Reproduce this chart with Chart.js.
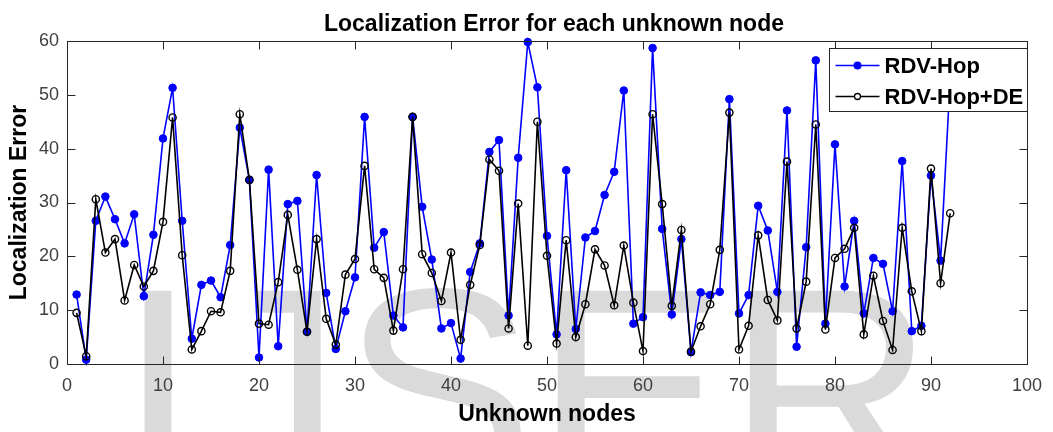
<!DOCTYPE html>
<html>
<head>
<meta charset="utf-8">
<script src="https://cdn.jsdelivr.net/npm/chart.js@4.4.1/dist/chart.umd.min.js"></script>
<style>
  html, body { margin: 0; padding: 0; background: #ffffff; }
  #wrap { width: 1053px; height: 432px; position: relative; }
</style>
</head>
<body>
<div id="wrap"><canvas id="c" width="1053" height="432"></canvas></div>
<script>
const nodes = Array.from({length: 92}, (_, i) => i + 1);
const rdvHop = [12.9, 0.8, 26.6, 31.1, 26.9, 22.4, 27.8, 12.6, 24.0, 41.9,
  51.3, 26.6, 4.7, 14.7, 15.5, 12.4, 22.1, 43.9, 34.2, 1.2,
  36.1, 3.3, 29.7, 30.3, 6.0, 35.1, 13.2, 2.8, 9.8, 16.1,
  45.9, 21.6, 24.5, 9.0, 6.8, 45.9, 29.2, 19.4, 6.6, 7.6,
  1.0, 17.1, 22.4, 39.4, 41.6, 9.0, 38.3, 59.8, 51.4, 23.8,
  5.5, 36.0, 6.5, 23.5, 24.7, 31.4, 35.7, 50.8, 7.5, 8.7,
  58.7, 25.1, 9.2, 23.2, 2.2, 13.3, 12.8, 13.4, 49.2, 9.4,
  12.8, 29.4, 24.8, 13.4, 47.1, 3.2, 21.7, 56.4, 7.5, 40.8,
  14.4, 26.6, 9.4, 19.7, 18.6, 9.8, 37.7, 6.1, 7.1, 35.0,
  19.2, 53.0];
const rdvHopDE = [9.5, 1.45, 30.6, 20.7, 23.2, 11.8, 18.4, 14.4, 17.3, 26.4,
  45.8, 20.2, 2.7, 6.1, 9.8, 9.6, 17.3, 46.4, 34.2, 7.5,
  7.3, 15.2, 27.7, 17.5, 6.0, 23.2, 8.4, 3.6, 16.6, 19.5,
  36.8, 17.6, 16.0, 6.2, 17.6, 45.9, 20.4, 16.9, 11.7, 20.7,
  4.5, 14.7, 22.1, 38.0, 35.9, 6.6, 29.8, 3.4, 45.0, 20.1,
  3.8, 23.0, 5.0, 11.1, 21.3, 18.3, 10.9, 22.0, 11.4, 2.4,
  46.4, 29.7, 10.8, 24.9, 2.3, 7.0, 11.1, 21.2, 46.7, 2.7,
  7.1, 23.9, 11.9, 8.1, 37.6, 6.6, 15.3, 44.5, 6.4, 19.7,
  21.4, 25.3, 5.5, 16.4, 8.0, 2.6, 25.3, 13.5, 6.1, 36.3,
  15.0, 28.0];
const seriesNames = ['RDV-Hop', 'RDV-Hop+DE'];
const xTicks = [0, 10, 20, 30, 40, 50, 60, 70, 80, 90, 100];
const yTicks = [0, 10, 20, 30, 40, 50, 60];
const chartTitle = 'Localization Error for each unknown node';
const xTitle = 'Unknown nodes';
const yTitle = 'Localization Error';
const watermark = 'IJSER';

const FONT = '"Liberation Sans", Arial, Helvetica, sans-serif';
const AXIS = '#262626';

const toPts = (ys) => nodes.map((n, i) => ({x: n, y: ys[i]}));

const bgPlugin = {
  id: 'bg',
  beforeDraw(chart) {
    const ctx = chart.ctx;
    ctx.save();
    ctx.fillStyle = '#ffffff';
    ctx.fillRect(0, 0, chart.width, chart.height);
    ctx.font = '288px ' + FONT;
    ctx.fillStyle = '#dadada';
    ctx.textBaseline = 'alphabetic';
    ctx.textAlign = 'left';
    ctx.fillText(watermark, 118, 489);
    ctx.restore();
  }
};

const framePlugin = {
  id: 'frame',
  afterDatasetsDraw(chart) {
    const {ctx, chartArea: a, scales: {x, y}} = chart;
    ctx.save();
    ctx.strokeStyle = AXIS;
    ctx.lineWidth = 1;
    const L = Math.round(a.left) + 0.5, R = Math.round(a.right) + 0.5;
    const T = Math.round(a.top) + 0.5, B = Math.round(a.bottom) + 0.5;
    ctx.strokeRect(L, T, R - L, B - T);
    const tl = 8;
    ctx.beginPath();
    xTicks.forEach(v => {
      const px = Math.round(x.getPixelForValue(v)) + 0.5;
      ctx.moveTo(px, B); ctx.lineTo(px, B - tl);
      ctx.moveTo(px, T); ctx.lineTo(px, T + tl);
    });
    yTicks.forEach(v => {
      const py = Math.round(y.getPixelForValue(v)) + 0.5;
      ctx.moveTo(L, py); ctx.lineTo(L + tl, py);
      ctx.moveTo(R, py); ctx.lineTo(R - tl, py);
    });
    ctx.stroke();
    ctx.restore();
  }
};

const titlePlugin = {
  id: 'mtitle',
  afterDraw(chart) {
    const ctx = chart.ctx;
    const a = chart.chartArea;
    ctx.save();
    ctx.font = 'bold 23px ' + FONT;
    ctx.fillStyle = '#000000';
    ctx.textAlign = 'center';
    ctx.textBaseline = 'alphabetic';
    ctx.fillText(chartTitle, (a.left + a.right) / 2 + 7, 31);
    ctx.restore();
  }
};

const legendPlugin = {
  id: 'mlegend',
  afterDraw(chart) {
    const ctx = chart.ctx;
    const a = chart.chartArea;
    const bx = Math.round(a.right) - 198 + 0.5, by = Math.round(a.top) + 7 + 0.5;
    const bw = 198, bh = 63;
    ctx.save();
    ctx.fillStyle = '#ffffff';
    ctx.fillRect(bx, by, bw, bh);
    ctx.strokeStyle = AXIS;
    ctx.lineWidth = 1;
    ctx.strokeRect(bx, by, bw, bh);
    ctx.font = 'bold 22px ' + FONT;
    ctx.textBaseline = 'middle';
    ctx.textAlign = 'left';
    chart.data.datasets.forEach((ds, i) => {
      const cy = by + 17 + i * 31;
      ctx.strokeStyle = ds.borderColor;
      ctx.lineWidth = ds.borderWidth;
      ctx.beginPath();
      ctx.moveTo(bx + 6, cy); ctx.lineTo(bx + 50, cy);
      ctx.stroke();
      ctx.beginPath();
      const r = i === 0 ? 4 : 3;
      ctx.arc(bx + 28, cy, r, 0, Math.PI * 2);
      if (i === 0) { ctx.fillStyle = ds.pointBackgroundColor; ctx.fill(); }
      else { ctx.fillStyle = '#ffffff'; ctx.fill(); ctx.lineWidth = 1.3; ctx.stroke(); }
      ctx.fillStyle = '#000000';
      ctx.fillText(ds.label, bx + 55, cy + 1);
    });
    ctx.restore();
  }
};

new Chart(document.getElementById('c'), {
  type: 'line',
  data: {
    datasets: [
      {
        label: seriesNames[0],
        data: toPts(rdvHop),
        borderColor: '#0000ff',
        backgroundColor: '#0000ff',
        pointBackgroundColor: '#0000ff',
        pointBorderColor: '#0000ff',
        borderWidth: 1.6,
        pointRadius: 3.8,
        pointBorderWidth: 1,
        tension: 0,
        clip: false,
        order: 2
      },
      {
        label: seriesNames[1],
        data: toPts(rdvHopDE),
        borderColor: '#000000',
        backgroundColor: 'rgba(0,0,0,0)',
        pointBackgroundColor: 'rgba(0,0,0,0)',
        pointBorderColor: '#000000',
        borderWidth: 1.6,
        pointRadius: 3.6,
        pointBorderWidth: 1.4,
        tension: 0,
        clip: false,
        order: 1
      }
    ]
  },
  options: {
    responsive: false,
    animation: false,
    devicePixelRatio: 1,
    events: [],
    layout: { padding: { left: 0, right: 22, top: 41, bottom: 0 } },
    plugins: {
      legend: { display: false },
      title: { display: false },
      tooltip: { enabled: false }
    },
    scales: {
      x: {
        type: 'linear',
        min: 0, max: 100,
        grid: { display: false, drawTicks: false },
        border: { display: false },
        afterBuildTicks: (s) => { s.ticks = xTicks.map(v => ({value: v})); },
        afterFit: (s) => { s.height = 68; },
        ticks: {
          color: '#404040',
          font: { family: FONT, size: 18 },
          padding: 11,
          maxRotation: 0,
          autoSkip: false
        },
        title: {
          display: true,
          text: xTitle,
          color: '#000000',
          font: { family: FONT, size: 23, weight: 'bold' },
          padding: { top: 0, bottom: 4 }
        }
      },
      y: {
        type: 'linear',
        min: 0, max: 60,
        grid: { display: false, drawTicks: false },
        border: { display: false },
        afterBuildTicks: (s) => { s.ticks = yTicks.map(v => ({value: v})); },
        afterFit: (s) => { s.width = 67; },
        ticks: {
          color: '#404040',
          font: { family: FONT, size: 18 },
          padding: 8,
          autoSkip: false
        },
        title: {
          display: true,
          text: yTitle,
          color: '#000000',
          font: { family: FONT, size: 23, weight: 'bold' },
          padding: { top: 6, bottom: 0 }
        }
      }
    }
  },
  plugins: [bgPlugin, framePlugin, titlePlugin, legendPlugin]
});
</script>
</body>
</html>
